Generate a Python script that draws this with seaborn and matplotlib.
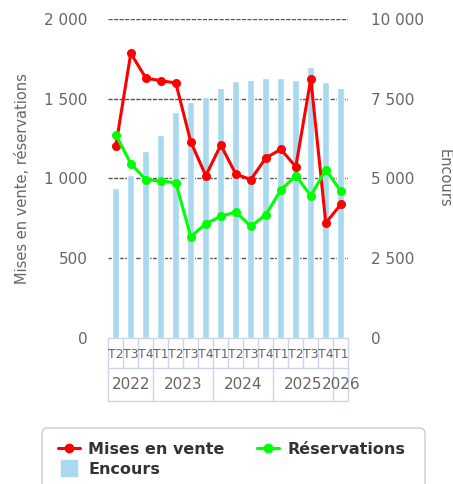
import itertools

import matplotlib.pyplot as plt
import numpy as np
import pandas as pd
import seaborn as sns
from matplotlib.lines import Line2D
from matplotlib.patches import FancyBboxPatch
from matplotlib.ticker import FuncFormatter

# données
quarters = ["T2", "T3", "T4", "T1", "T2", "T3", "T4", "T1", "T2", "T3", "T4",
            "T1", "T2", "T3", "T4", "T1"]
years = ["2022"] * 3 + ["2023"] * 4 + ["2024"] * 4 + ["2025"] * 4 + ["2026"]
mises_en_vente = [1205, 1785, 1630, 1613, 1599, 1229, 1018, 1210, 1028, 993,
                  1129, 1183, 1074, 1624, 721, 838]
reservations = [1275, 1093, 993, 984, 974, 635, 717, 763, 790, 700, 773, 928,
                1018, 892, 1055, 920]
encours = [4700, 5100, 5850, 6350, 7100, 7400, 7550, 7850, 8050, 8080, 8150,
           8150, 8100, 8480, 8020, 7830]

RED = "#ff0000"
GREEN = "#00ff00"
BLUE = "#a8d9ee"
TEXT = "#666666"
TABLE = "#ccd6eb"

df = pd.DataFrame({
    "pos": np.arange(len(quarters)),
    "mises": mises_en_vente,
    "reservations": reservations,
    "encours": encours,
})

sns.set_style("white")
plt.rcParams["font.family"] = ["DejaVu Sans"]

fig = plt.figure(figsize=(4.53, 4.84), dpi=100)
ax = fig.add_axes([108.3 / 453, 1 - 338 / 484, 240 / 453, 319 / 484])
ax2 = ax.twinx()
ax.set_zorder(ax2.get_zorder() + 1)
ax.patch.set_visible(False)

# barres Encours (axe de droite)
sns.barplot(data=df, x="pos", y="encours", color=BLUE, saturation=1,
            width=0.45, ax=ax2)

# courbes (axe de gauche)
sns.lineplot(data=df, x="pos", y="mises", color=RED, marker="o", markersize=6.5,
             markeredgewidth=0, linewidth=2.2, ax=ax)
sns.lineplot(data=df, x="pos", y="reservations", color=GREEN, marker="o",
             markersize=6.5, markeredgewidth=0, linewidth=2.2, ax=ax)

n = len(quarters)
for a in (ax, ax2):
    a.set_xlim(-0.5, n - 0.5)
    a.set_xticks([])
    a.set_xlabel("")
    for s in a.spines.values():
        s.set_visible(False)
    a.tick_params(length=0, labelsize=11, labelcolor=TEXT)

fmt = FuncFormatter(lambda v, _: f"{int(v):,}".replace(",", " "))
ax.set_ylim(0, 2000)
ax.set_yticks([0, 500, 1000, 1500, 2000])
ax.yaxis.set_major_formatter(fmt)
ax.tick_params(axis="y", pad=15)
ax2.set_ylim(0, 10000)
ax2.set_yticks([0, 2500, 5000, 7500, 10000])
ax2.yaxis.set_major_formatter(fmt)
ax2.tick_params(axis="y", pad=16)

ax2.set_axisbelow(True)
ax2.yaxis.grid(True, color="#555555", linestyle=(0, (3, 1)), linewidth=1)
ax2.get_ygridlines()[0].set_visible(False)
ax.grid(False)

ax.set_ylabel("Mises en vente, réservations", fontsize=10.5, color=TEXT, labelpad=10)
ax2.set_ylabel("Encours", fontsize=10.5, color=TEXT, rotation=270, labelpad=20)

# tableau des catégories (trimestres / années)
trans = ax.get_xaxis_transform()
kw = dict(color=TABLE, lw=1, transform=trans, clip_on=False)
row1, row2 = -0.094, -0.197
for y in (0, row1, row2):
    ax.plot([-0.5, n - 0.5], [y, y], **kw)
for i in range(n + 1):
    ax.plot([i - 0.5, i - 0.5], [0, row1], **kw)
for i, q in enumerate(quarters):
    ax.text(i, -0.053, q, transform=trans, ha="center", va="center",
            fontsize=9, color=TEXT)
start = 0
for year, grp in itertools.groupby(years):
    count = len(list(grp))
    ax.plot([start - 0.5, start - 0.5], [row1, row2], **kw)
    ax.text(start + (count - 1) / 2, -0.145, year, transform=trans,
            ha="center", va="center", fontsize=11, color=TEXT)
    start += count
ax.plot([n - 0.5, n - 0.5], [row1, row2], **kw)

# légende
frame = FancyBboxPatch((42 / 453, -0.02), 383 / 453, 1 - 428 / 484 + 0.02,
                       boxstyle="round,pad=0,rounding_size=0.012",
                       transform=fig.transFigure, facecolor="white",
                       edgecolor="#cccccc", linewidth=1)
fig.patches.append(frame)
handles = [
    Line2D([], [], color=RED, lw=2.2, marker="o", markersize=6),
    Line2D([], [], color=BLUE, lw=0, marker="s", markersize=12),
    Line2D([], [], color=GREEN, lw=2.2, marker="o", markersize=6),
]
labels = ["Mises en vente", "Encours", "Réservations"]
fig.legend(handles, labels, loc="upper left", bbox_to_anchor=(50 / 453, 1 - 434 / 484),
           ncol=2, frameon=False, handlelength=1.4, handletextpad=0.5,
           columnspacing=2.0, labelspacing=0.3, borderpad=0,
           prop={"weight": "bold", "size": 11.5}, labelcolor="#333333")

fig.savefig("out.png", dpi=100)
